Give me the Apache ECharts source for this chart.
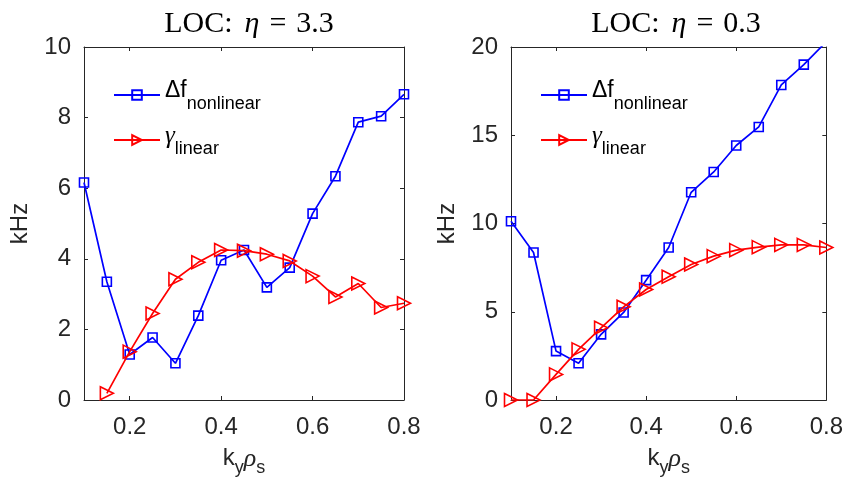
<!DOCTYPE html>
<html>
  <head>
    <meta charset="utf-8" />
    <title>LOC</title>
    <style>
      html, body { margin: 0; padding: 0; background: #fff; }
    </style>
  </head>
  <body>
    <div id="main" style="width: 846px; height: 483px"></div>
    <script src="https://cdn.jsdelivr.net/npm/echarts@6/dist/echarts.min.js"></script>
    <script>
      // k_y rho_s values (shared by both panels)
      var kyRho = [0.1, 0.15, 0.2, 0.25, 0.3, 0.35, 0.4, 0.45, 0.5, 0.55, 0.6, 0.65, 0.7, 0.75, 0.8];
      var xTicks = [0.2, 0.4, 0.6, 0.8];
      // LOC: eta = 3.3
      var dfEta33 = [6.16, 3.35, 1.29, 1.77, 1.04, 2.39, 3.96, 4.25, 3.19, 3.75, 5.28, 6.34, 7.87, 8.04, 8.66];
      var gammaEta33 = [null, 0.19, 1.37, 2.45, 3.42, 3.90, 4.25, 4.23, 4.13, 3.94, 3.51, 2.92, 3.30, 2.62, 2.74];
      // LOC: eta = 0.3
      var dfEta03 = [10.13, 8.36, 2.77, 2.08, 3.72, 4.96, 6.79, 8.64, 11.77, 12.92, 14.42, 15.47, 17.85, 19.0, 20.3];
      var gammaEta03 = [0, 0, 1.45, 2.87, 4.09, 5.28, 6.26, 6.98, 7.68, 8.15, 8.49, 8.66, 8.79, 8.79, 8.64];
      var etaLabels = ["3.3", "0.3"];
      var yMax = [10, 20];
      var yStep = [2, 5];

      var myChart = echarts.init(document.getElementById("main"));

      var sans = "Liberation Sans, Arial, sans-serif";
      var serif = "Liberation Serif, Times New Roman, serif";
      var axisColor = "#262626";
      var panelLeft = [84, 511];
      var panelW = 320;
      var blue = "#0000ff";
      var red = "#ff0000";

      function pairs(ys) {
        var out = [];
        for (var i = 0; i < kyRho.length; i++) {
          if (ys[i] != null) out.push([kyRho[i], ys[i]]);
        }
        return out;
      }

      var grids = [], xAxes = [], yAxes = [], titles = [], legends = [], series = [];

      for (var p = 0; p < 2; p++) {
        grids.push({ left: panelLeft[p], top: 47, width: panelW, height: 353 });

        var xName = {
          name: "{k|k}{sub|y}{rho|ρ}{sub|s}",
          nameLocation: "middle",
          nameGap: 46,
          nameTextStyle: {
            rich: {
              k: { fontFamily: sans, fontSize: 24, color: axisColor, verticalAlign: "top" },
              rho: { fontFamily: serif, fontStyle: "italic", fontSize: 26, color: axisColor, verticalAlign: "top" },
              sub: { fontFamily: sans, fontSize: 18, color: axisColor, verticalAlign: "top", padding: [13, 0, 0, 0] }
            }
          }
        };
        // bottom + top x axes (box with inner ticks)
        for (var s = 0; s < 2; s++) {
          var ax = {
            gridIndex: p,
            type: "value",
            position: s === 0 ? "bottom" : "top",
            min: 0.1,
            max: 0.8,
            axisLine: { show: true, onZero: false, lineStyle: { color: axisColor, width: 1 } },
            axisTick: { show: true, inside: true, length: 4, customValues: xTicks, lineStyle: { color: axisColor } },
            axisLabel: {
              show: s === 0,
              customValues: xTicks,
              margin: 15,
              fontFamily: sans,
              fontSize: 24,
              color: axisColor,
              formatter: function (v) { return v.toFixed(1); }
            },
            splitLine: { show: false }
          };
          if (s === 0) Object.assign(ax, xName);
          xAxes.push(ax);
        }
        // left + right y axes
        for (var s2 = 0; s2 < 2; s2++) {
          var ay = {
            gridIndex: p,
            type: "value",
            position: s2 === 0 ? "left" : "right",
            min: 0,
            max: yMax[p],
            interval: yStep[p],
            axisLine: { show: true, onZero: false, lineStyle: { color: axisColor, width: 1 } },
            axisTick: { show: true, inside: true, length: 4, lineStyle: { color: axisColor } },
            axisLabel: { show: s2 === 0, margin: 13, fontFamily: sans, fontSize: 24, color: axisColor },
            splitLine: { show: false }
          };
          if (s2 === 0) {
            ay.name = "kHz";
            ay.nameLocation = "middle";
            ay.nameGap = 52;
            ay.nameTextStyle = { fontFamily: sans, fontSize: 24, color: axisColor };
          }
          yAxes.push(ay);
        }

        titles.push({
          text: "{r|LOC:}{e|η}{q|=}{r|" + etaLabels[p] + "}",
          left: panelLeft[p] + panelW / 2,
          textAlign: "center",
          top: 4,
          textStyle: {
            rich: {
              r: { fontFamily: serif, fontWeight: "normal", fontSize: 30, color: "#000" },
              e: { fontFamily: serif, fontWeight: "normal", fontStyle: "italic", fontSize: 30, color: "#000", padding: [0, 0, 0, 12] },
              q: { fontFamily: serif, fontWeight: "normal", fontSize: 30, color: "#000", padding: [0, 10, 0, 10] }
            }
          }
        });

        legends.push({
          data: ["df", "gamma"],
          left: panelLeft[p] + 29,
          top: 79,
          padding: 0,
          orient: "vertical",
          itemWidth: 46,
          itemHeight: 12,
          itemGap: 11,
          selectedMode: false,
          formatter: function (name) {
            return name === "df" ? "{m|Δf}{sub|nonlinear}" : "{g|γ}{sub|linear}";
          },
          textStyle: {
            rich: {
              m: { fontFamily: sans, fontSize: 23, color: "#000", verticalAlign: "top", padding: [2, 0, 0, 0] },
              g: { fontFamily: serif, fontStyle: "italic", fontSize: 25, color: "#000", verticalAlign: "top", padding: [2, 0, 0, 0] },
              sub: { fontFamily: sans, fontSize: 18, color: "#000", verticalAlign: "top", padding: [18, 0, 0, 0] }
            }
          }
        });

        var dfData = p === 0 ? dfEta33 : dfEta03;
        var gData = p === 0 ? gammaEta33 : gammaEta03;
        series.push({
          name: "df",
          type: "line",
          xAxisIndex: p * 2,
          yAxisIndex: p * 2,
          data: pairs(dfData),
          symbol: "rect",
          symbolSize: 9,
          lineStyle: { color: blue, width: 1.7 },
          itemStyle: { color: "rgba(255,255,255,0)", borderColor: blue, borderWidth: 1.6 },
          clip: true,
          z: 2
        });
        series.push({
          name: "gamma",
          type: "line",
          xAxisIndex: p * 2,
          yAxisIndex: p * 2,
          data: pairs(gData),
          symbol: "path://M0,0L10,5L0,10Z",
          symbolSize: 13,
          lineStyle: { color: red, width: 1.7 },
          itemStyle: { color: "rgba(255,255,255,0)", borderColor: red, borderWidth: 1.6 },
          clip: true,
          z: 3
        });
      }

      var option = {
        animation: false,
        backgroundColor: "#fff",
        title: titles,
        legend: legends,
        grid: grids,
        xAxis: xAxes,
        yAxis: yAxes,
        series: series
      };
      myChart.setOption(option);
    </script>
  </body>
</html>
